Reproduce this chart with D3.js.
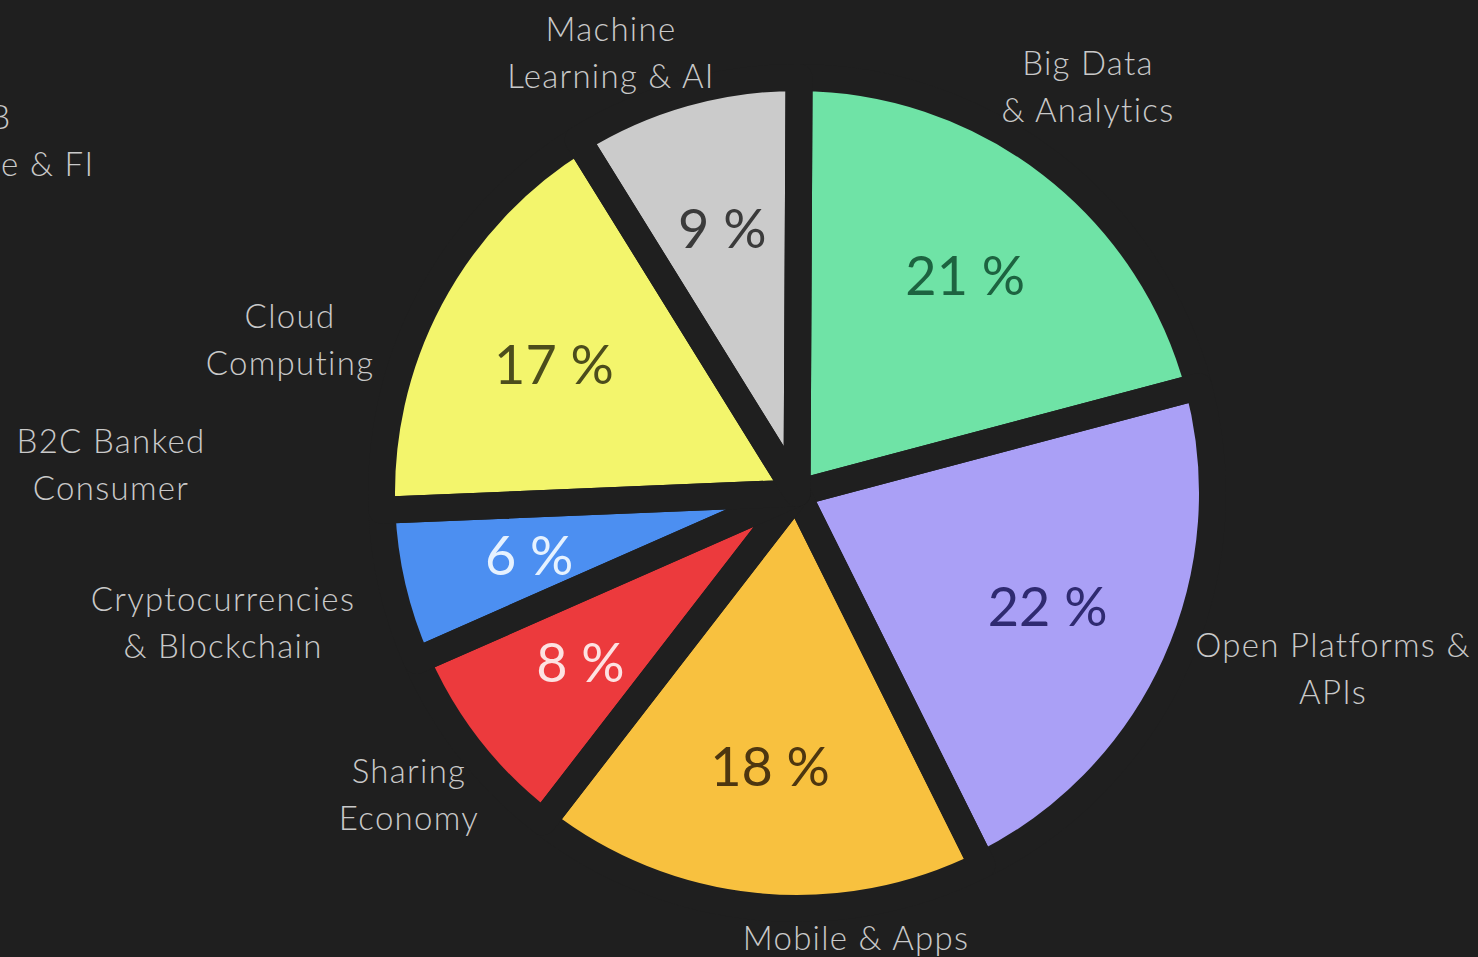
<!DOCTYPE html>
<html>
<head>
<meta charset="utf-8">
<script src="https://cdn.jsdelivr.net/npm/d3@7"></script>
<style>
  html, body { margin: 0; padding: 0; background: #1f1f1f; overflow: hidden; }
  svg { display: block; }
</style>
</head>
<body>
<svg id="chart" width="1478" height="957"></svg>
<script>
// Share of fintech focus areas (percent)
const categories = [
  "Big Data & Analytics",
  "Open Platforms & APIs",
  "Mobile & Apps",
  "Sharing Economy",
  "Cryptocurrencies & Blockchain",
  "Cloud Computing",
  "Machine Learning & AI"
];
const values = [21, 22, 18, 8, 6, 17, 9];
const sliceColors = ["#6fe3a6", "#aaa0f6", "#f8c13f", "#ec3a3d", "#4c8ff1", "#f3f56c", "#cbcbcb"];
const valueTextColors = ["#1d6340", "#2f2a70", "#4d3610", "#fde2e2", "#e6f2ff", "#4c4d1c", "#3b3b3b"];

// Category captions around the pie, split into lines
const captionLines = [
  ["Big Data", "& Analytics"],
  ["Open Platforms &", "APIs"],
  ["Mobile & Apps"],
  ["Sharing", "Economy"],
  ["Cryptocurrencies", "& Blockchain"],
  ["Cloud", "Computing"],
  ["Machine", "Learning & AI"]
];
// Further segments listed at the left with no slice of their own
const extraCaptions = [
  ["B2B", "Corporate & FI"],
  ["B2C Banked", "Consumer"]
];

const W = 1478, H = 957;
const bg = "#1f1f1f";
const cx = 797, cy = 493, R = 402, gap = 27;
const svg = d3.select("#chart");

const pie = d3.pie().sort(null).value(d => d).startAngle(0.005).endAngle(2 * Math.PI + 0.005);
// Slices are drawn a half-gap larger, then cut back by a background-coloured
// outline so every slice is separated by an even band.
const arc = d3.arc().innerRadius(0).outerRadius(R + gap / 2);
const labelArc = d3.arc().innerRadius(275).outerRadius(275);

const arcs = pie(values);
const g = svg.append("g").attr("transform", `translate(${cx},${cy})`);

g.selectAll("path.slice")
  .data(arcs)
  .join("path")
  .attr("class", "slice")
  .attr("d", arc)
  .attr("fill", (d, i) => sliceColors[i]);

g.selectAll("path.sep")
  .data(arcs)
  .join("path")
  .attr("class", "sep")
  .attr("d", arc)
  .attr("fill", "none")
  .attr("stroke", bg)
  .attr("stroke-width", gap)
  .attr("stroke-linejoin", "round");

g.selectAll("text.value")
  .data(arcs)
  .join("text")
  .attr("class", "value")
  .attr("transform", d => `translate(${labelArc.centroid(d)})`)
  .attr("text-anchor", "middle")
  .attr("dy", "0.36em")
  .attr("font-family", "Lato, 'Open Sans', sans-serif")
  .attr("font-weight", 400)
  .attr("font-size", 54)
  .attr("fill", (d, i) => valueTextColors[i])
  .text(d => `${d.data} %`);

// Caption anchor points (centre of the caption block)
const captionPos = [
  [1088, 87], [1333, 669], [856, 938], [409, 795], [223, 623], [290, 340], [611, 53]
];
const extraPos = [[-21, 141], [111, 465]];

function drawCaption(lines, pos) {
  const lh = 46.5;
  const t = svg.append("text")
    .attr("text-anchor", "middle")
    .attr("font-family", "Lato, 'Open Sans', sans-serif")
    .attr("font-weight", 300)
    .attr("font-size", 33)
    .attr("letter-spacing", 1.3)
    .attr("fill", "#c9c9c9");
  const y0 = pos[1] - (lines.length - 1) * lh / 2;
  lines.forEach((s, k) => {
    t.append("tspan").attr("x", pos[0]).attr("y", y0 + k * lh).attr("dy", "0.35em").text(s);
  });
}
captionLines.forEach((lines, i) => drawCaption(lines, captionPos[i]));
extraCaptions.forEach((lines, i) => drawCaption(lines, extraPos[i]));
</script>
</body>
</html>
